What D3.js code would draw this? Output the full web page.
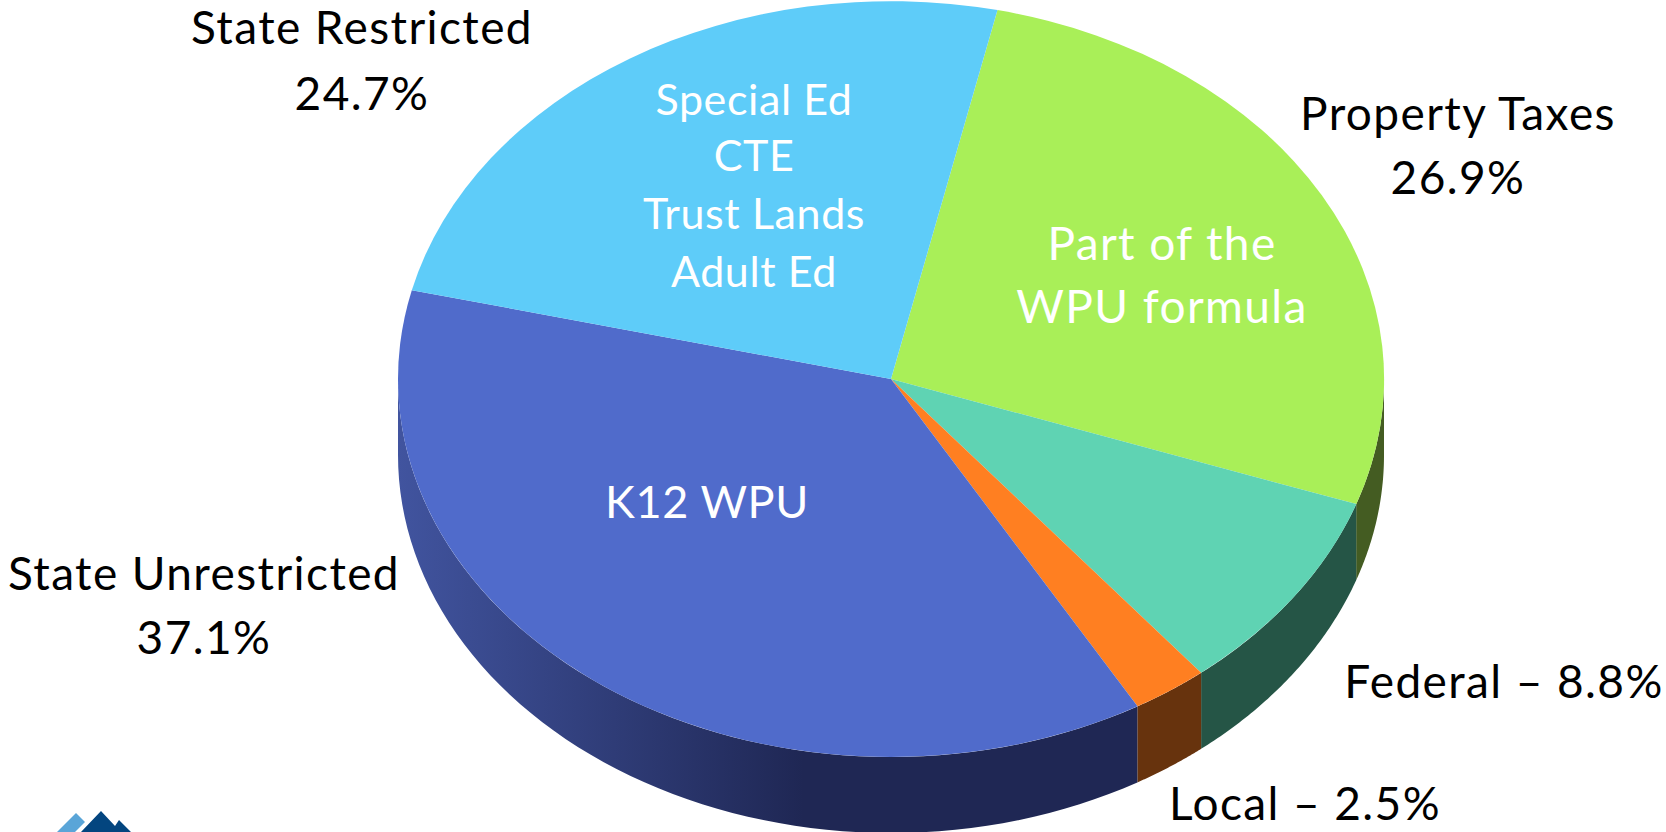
<!DOCTYPE html>
<html><head><meta charset="utf-8">
<script src="https://cdn.jsdelivr.net/npm/d3@7"></script>
<style>html,body{margin:0;padding:0;background:#fff;overflow:hidden}svg{display:block}text{font-family:Lato,"Open Sans",sans-serif}</style>
</head><body><svg id="c" width="1666" height="832"></svg>
<script>
const categories = ["Property Taxes","Federal","Local","State Unrestricted","State Restricted"];
const shares = [26.9,8.8,2.5,37.1,24.7];
const topColors = ["#a9ef58","#5fd3b3","#ff7f21","#506bcb","#5eccf9"];
const wallColors = ["#445c22","#255546","#67330d",null,"#25526a"];
const outerLabels = [
  {lines:["State Restricted","24.7%"],x:362,y:[44,110],size:46,ls:1.4},
  {lines:["Property Taxes","26.9%"],x:1458,y:[130,194],size:46,ls:1.4},
  {lines:["State Unrestricted","37.1%"],x:204,y:[590,654],size:46,ls:1.4},
  {lines:["Federal – 8.8%"],x:1504,y:[698],size:46,ls:1.4},
  {lines:["Local – 2.5%"],x:1305,y:[820],size:46,ls:1.4}
];
const innerLabels = [
  {lines:["Special Ed","CTE","Trust Lands","Adult Ed"],x:754,y:[115,171,229,287],size:43,ls:0.6},
  {lines:["Part of the","WPU formula"],x:1162,y:[260,323],size:46,ls:1.4},
  {lines:["K12 WPU"],x:707,y:[518],size:45,ls:0.6}
];
const logoLight = [[57,832],[76,813],[85,822],[75,832]];
const logoDark = [[81,832],[101,811],[115,826],[119,820],[131,832]];

const cx=891, cy=379, rx=493, ry=378, depth=76, startDeg=12.5;
const svg=d3.select("#c");
const defs=svg.append("defs");
const grad=defs.append("linearGradient").attr("id","wallBlue").attr("gradientUnits","userSpaceOnUse")
  .attr("x1",cx-rx).attr("x2",803).attr("y1",0).attr("y2",0);
grad.append("stop").attr("offset",0).attr("stop-color","#41549f");
grad.append("stop").attr("offset",1).attr("stop-color","#1f2754");

const pie=d3.pie().sort(null).startAngle(startDeg*Math.PI/180).endAngle((startDeg+360)*Math.PI/180);
const slices=pie(shares);
const px=a=>cx+rx*Math.sin(a), py=a=>cy-ry*Math.cos(a);

// side walls: visible only on the front half of the ellipse
const wallLine=d3.line().x(d=>d[0]).y(d=>d[1]);
slices.forEach((s,i)=>{
  const a0=Math.max(s.startAngle,Math.PI/2), a1=Math.min(s.endAngle,Math.PI*1.5);
  if(a1<=a0) return;
  const as=d3.range(0,65).map(k=>a0+(a1-a0)*k/64);
  const pts=as.map(a=>[px(a),py(a)]).concat(as.slice().reverse().map(a=>[px(a),py(a)+depth]));
  svg.append("path").attr("d",wallLine(pts)+"Z").attr("fill",wallColors[i]||"url(#wallBlue)");
});

// top face: a unit pie squashed to the ellipse
const arc=d3.arc().innerRadius(0).outerRadius(1);
svg.append("g").attr("transform",`translate(${cx},${cy}) scale(${rx},${ry})`)
  .selectAll("path").data(slices).join("path").attr("d",arc).attr("fill",(d,i)=>topColors[i]);

function putText(list,fill){
  list.forEach(l=>l.lines.forEach((t,i)=>{
    svg.append("text").attr("x",l.x).attr("y",l.y[i]).attr("text-anchor","middle")
      .attr("font-size",l.size).attr("letter-spacing",l.ls).attr("fill",fill).text(t);
  }));
}
putText(outerLabels,"#000");
putText(innerLabels,"#fff");
svg.append("path").attr("d",d3.line()(logoLight)+"Z").attr("fill","#5aa5d8");
svg.append("path").attr("d",d3.line()(logoDark)+"Z").attr("fill","#03457f");
</script></body></html>
